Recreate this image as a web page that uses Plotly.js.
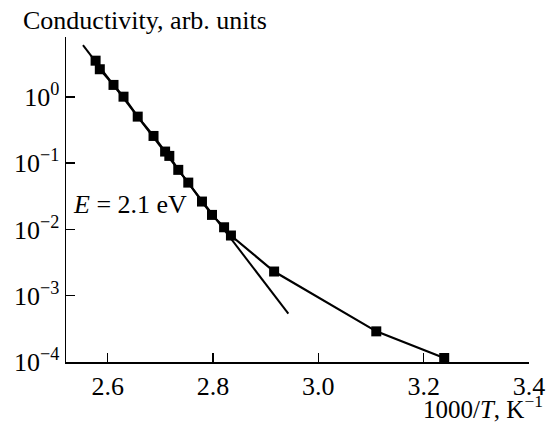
<!DOCTYPE html>
<html>
<head>
<meta charset="utf-8">
<script src="https://cdn.plot.ly/plotly-3.0.1.min.js"></script>
<style>
html,body{margin:0;padding:0;background:#fff;}
#chart{width:546px;height:422px;}
</style>
</head>
<body>
<div id="chart"></div>
<script>
// Measured data: 1000/T (K^-1) and conductivity (arb. units)
var invT = [2.577, 2.585, 2.611, 2.630, 2.657, 2.687, 2.709, 2.717, 2.734, 2.753, 2.779, 2.798, 2.821, 2.834, 2.916, 3.110, 3.239];
var sigma = [3.53, 2.62, 1.52, 1.01, 0.505, 0.258, 0.150, 0.129, 0.0794, 0.0510, 0.0264, 0.0166, 0.0108, 0.00811, 0.00232, 0.00029, 0.000115];

// Activation-energy fit line (E = 2.1 eV), endpoints
var fitX = [2.553, 2.943];
var fitY = [6.08, 0.000536];

// Tick labels
var xTickVals = [2.6, 2.8, 3.0, 3.2, 3.4];
var xTickText = ['2.6', '2.8', '3.0', '3.2', '3.4'];
var yTickVals = [1, 0.1, 0.01, 0.001, 0.0001];
var yTickText = ['10<sup>0</sup>', '10<sup>−1</sup>', '10<sup>−2</sup>', '10<sup>−3</sup>', '10<sup>−4</sup>'];

var FONT = '"Liberation Serif", "Times New Roman", serif';
var FS = 26;

var traces = [
  {
    x: fitX, y: fitY, type: 'scatter', mode: 'lines',
    line: {color: '#000', width: 2},
    hoverinfo: 'skip', showlegend: false
  },
  {
    x: invT, y: sigma, type: 'scatter', mode: 'lines+markers',
    line: {color: '#000', width: 2.2},
    marker: {symbol: 'square', size: 10, color: '#000'},
    showlegend: false
  }
];

var layout = {
  width: 546, height: 422,
  margin: {l: 66, r: 17, t: 37, b: 60},
  paper_bgcolor: '#fff', plot_bgcolor: '#fff',
  font: {family: FONT, size: FS, color: '#000'},
  showlegend: false,
  xaxis: {
    range: [2.5208, 3.4],
    tickvals: xTickVals, ticktext: xTickText,
    ticks: 'inside', ticklen: 9, tickwidth: 1.5, tickcolor: '#000',
    showline: true, linecolor: '#000', linewidth: 1.5,
    showgrid: false, zeroline: false,
    tickfont: {family: FONT, size: FS, color: '#000'}
  },
  yaxis: {
    type: 'log',
    range: [-4, 0.905],
    tickvals: yTickVals, ticktext: yTickText,
    ticks: 'inside', ticklen: 9, tickwidth: 1.5, tickcolor: '#000',
    showline: true, linecolor: '#000', linewidth: 1.5,
    showgrid: false, zeroline: false,
    tickfont: {family: FONT, size: FS, color: '#000'}
  },
  annotations: [
    {
      text: 'Conductivity, arb. units',
      xref: 'paper', yref: 'paper', x: 0, y: 1.0, xanchor: 'left', yanchor: 'middle',
      xshift: -45, yshift: 17, showarrow: false, font: {family: FONT, size: FS, color: '#000'}
    },
    {
      text: '1000/<i>T</i>, K<sup>−1</sup>',
      xref: 'paper', yref: 'paper', x: 1.0, y: 0, xanchor: 'right', yanchor: 'middle',
      xshift: 15, yshift: -45, borderpad: 0, showarrow: false, font: {family: FONT, size: 25, color: '#000'}
    },
    {
      text: '<i>E</i> = 2.1 eV',
      xref: 'paper', yref: 'paper', x: 0, y: 0.486, xanchor: 'left', yanchor: 'middle',
      xshift: 5, showarrow: false, font: {family: FONT, size: FS, color: '#000'}
    }
  ]
};

Plotly.newPlot('chart', traces, layout, {displayModeBar: false, staticPlot: true});
</script>
</body>
</html>
